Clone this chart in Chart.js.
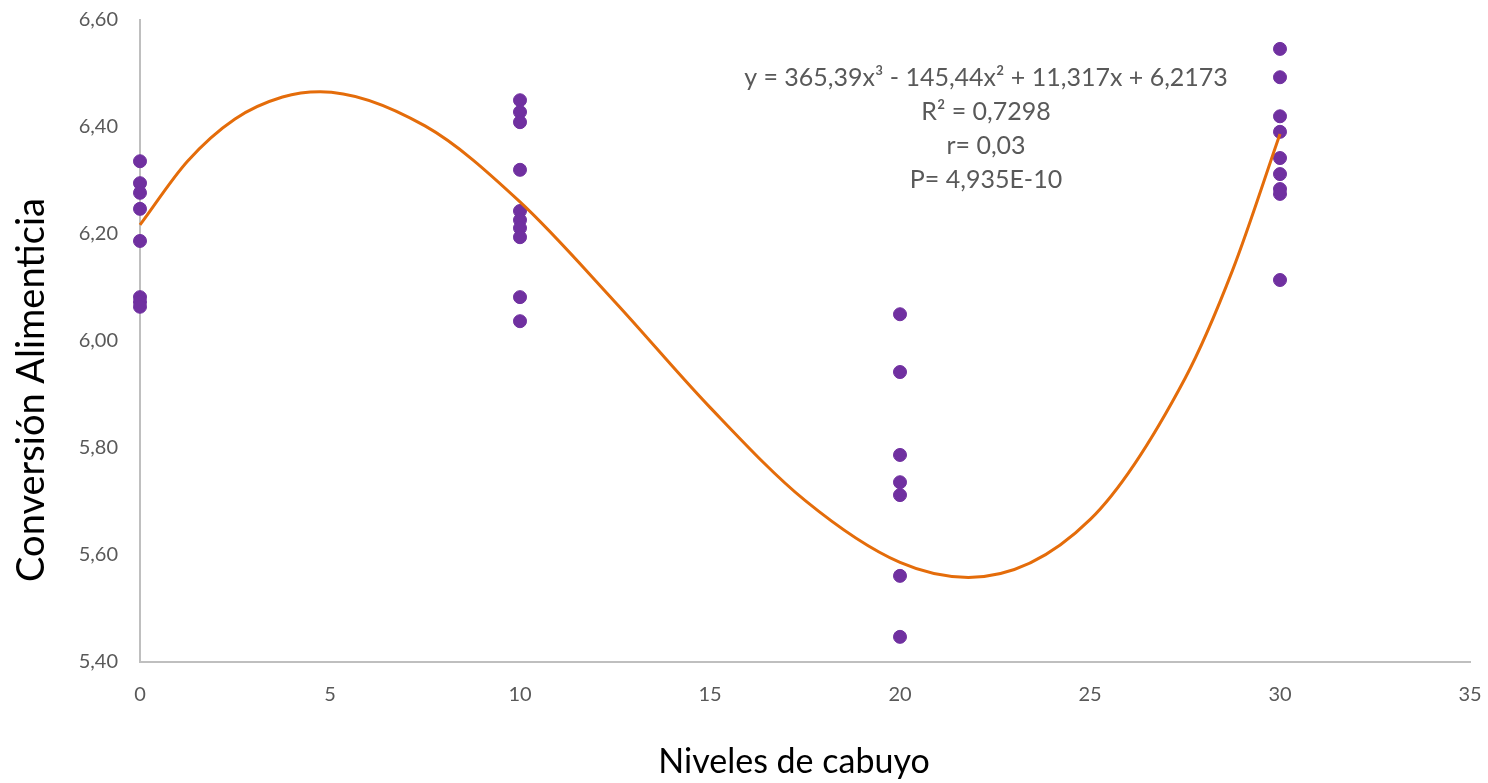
<!DOCTYPE html>
<html>
<head>
<meta charset="utf-8">
<script src="https://cdn.jsdelivr.net/npm/chart.js@4"></script>
<style>
  html, body { margin:0; padding:0; background:#fff; }
  #wrap { width:1488px; height:783px; }
</style>
</head>
<body>
<div id="wrap"><canvas id="feedChart" width="1488" height="783"></canvas></div>
<script>
// niveles de cabuyo (x) and the readings at each level
const levels = [0, 10, 20, 30];
const conv0  = [6.336, 6.295, 6.277, 6.247, 6.187, 6.082, 6.073, 6.064];
const conv10 = [6.450, 6.428, 6.409, 6.320, 6.243, 6.226, 6.211, 6.194, 6.082, 6.037];
const conv20 = [6.050, 5.942, 5.787, 5.736, 5.712, 5.561, 5.447];
const conv30 = [6.546, 6.493, 6.420, 6.391, 6.342, 6.312, 6.284, 6.275, 6.114];

// polynomial trend line
const trendX = [0, 1.25, 2.5, 3.75, 4.74, 7.5, 10, 12.5, 15, 17.5, 20, 21.8, 25, 27.5, 28.75, 30];
const trendY = [6.217, 6.336, 6.415, 6.456, 6.466, 6.402, 6.260, 6.073, 5.876, 5.702, 5.586, 5.558, 5.666, 5.930, 6.132, 6.387];

const xTicks = [0, 5, 10, 15, 20, 25, 30, 35];
const yTicks = [5.40, 5.60, 5.80, 6.00, 6.20, 6.40, 6.60];

const xTitle = 'Niveles de cabuyo';
const yTitle = 'Conversión Alimenticia';
const eqLines = [
  'y = 365,39x³ - 145,44x² + 11,317x + 6,2173',
  'R² = 0,7298',
  'r= 0,03',
  'P= 4,935E-10'
];

const groups = [conv0, conv10, conv20, conv30];
const points = [];
groups.forEach((vals, i) => {
  vals.forEach(v => points.push({ x: levels[i], y: v }));
});
const trend = trendX.map((x, i) => ({ x: x, y: trendY[i] }));

const FONT = 'Lato, "Open Sans", sans-serif';

// equation box and axis titles (titles sit off-centre like in the original)
const textLayer = {
  id: 'textLayer',
  afterDatasetsDraw(chart) {
    const c = chart.ctx;
    c.save();
    c.textAlign = 'center';
    c.textBaseline = 'middle';

    c.font = '25px ' + FONT;
    c.fillStyle = '#595959';
    eqLines.forEach((t, i) => c.fillText(t, 986, 78 + i * 34));

    c.fillStyle = '#000';
    c.font = '34px ' + FONT;
    c.fillText(xTitle, 794, 762);

    c.font = '38px ' + FONT;
    c.translate(32, 390);
    c.rotate(-Math.PI / 2);
    c.fillText(yTitle, 0, 0);
    c.restore();
  }
};

const ctx = document.getElementById('feedChart');

new Chart(ctx, {
  type: 'scatter',
  data: {
    datasets: [{
      type: 'line',
      data: trend,
      borderColor: '#E46C0A',
      borderWidth: 3,
      pointRadius: 0,
      fill: false,
      cubicInterpolationMode: 'monotone',
      order: 0,
      clip: false
    }, {
      data: points,
      backgroundColor: '#7030A0',
      borderColor: '#7030A0',
      pointRadius: 6.5,
      pointHoverRadius: 6.5,
      order: 1,
      clip: false
    }]
  },
  options: {
    responsive: false,
    animation: false,
    layout: { padding: { top: 20, right: 18, left: 0, bottom: 0 } },
    plugins: { legend: { display: false }, tooltip: { enabled: false } },
    scales: {
      x: {
        type: 'linear',
        min: 0, max: 35,
        afterFit: s => { s.height = 121; s.paddingLeft = 0; s.paddingRight = 0; },
        afterBuildTicks: s => { s.ticks = xTicks.map(v => ({ value: v })); },
        grid: { display: false, drawTicks: false },
        border: { color: '#BFBFBF', width: 2 },
        ticks: { padding: 21, color: '#595959', font: { family: FONT, size: 20 } }
      },
      y: {
        min: 5.4, max: 6.6,
        afterFit: s => { s.width = 140; s.paddingTop = 0; s.paddingBottom = 0; },
        afterBuildTicks: s => { s.ticks = yTicks.map(v => ({ value: v })); },
        grid: { display: false, drawTicks: false },
        border: { color: '#BFBFBF', width: 2 },
        ticks: {
          padding: 22, color: '#595959', font: { family: FONT, size: 20 },
          callback: v => v.toFixed(2).replace('.', ',')
        }
      }
    }
  },
  plugins: [textLayer]
});
</script>
</body>
</html>
